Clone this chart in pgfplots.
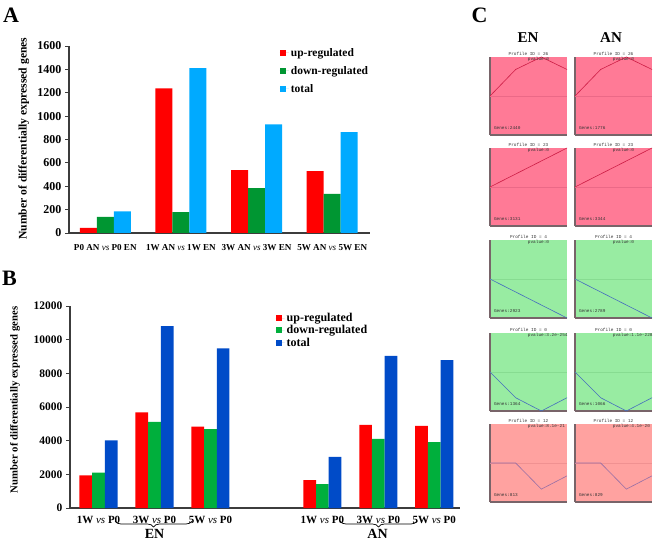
\documentclass[border=0pt]{standalone}
\usepackage{pgfplots}
\pgfplotsset{compat=1.18}
\usepackage{fontspec}
\setmainfont{Liberation Serif}
\newfontfamily\cfont{Liberation Mono}
\usetikzlibrary{decorations.pathreplacing}

\definecolor{redA}{RGB}{255,0,0}
\definecolor{greenA}{RGB}{0,150,50}
\definecolor{blueA}{RGB}{0,170,255}
\definecolor{greenB}{RGB}{0,175,60}
\definecolor{blueB}{RGB}{0,75,200}
\definecolor{pinkbox}{RGB}{255,122,150}
\definecolor{pinkline}{RGB}{205,30,70}
\definecolor{pinkmid}{RGB}{235,105,135}
\definecolor{greenbox}{RGB}{152,236,162}
\definecolor{greenline}{RGB}{70,110,190}
\definecolor{greenmid}{RGB}{135,220,145}
\definecolor{salbox}{RGB}{255,162,160}
\definecolor{salline}{RGB}{150,110,165}
\definecolor{salmid}{RGB}{240,145,145}
\definecolor{boxedge}{RGB}{120,100,105}
\definecolor{axcol}{RGB}{60,60,60}

\newcommand{\cf}{\cfont\fontsize{4.4}{4.4}\selectfont}

\newcommand{\profilebox}[9]{%
\begin{axis}[at={(#1pt,#2pt)}, anchor=south west, scale only axis, width=77pt, height=78pt,
 xmin=0, xmax=3, ymin=-1, ymax=1, ticks=none,
 axis x line*=bottom, axis y line*=left, axis line style={-, boxedge, line width=1.1pt},
 axis background/.style={fill=#3}, clip=false]
\addplot[#5, line width=0.5pt] coordinates {(0,0) (3,0)};
\addplot[#4, line width=0.6pt] coordinates {#6};
\node[font=\cf, above, inner sep=1pt, text=black!80] at (rel axis cs:0.5,1) {Profile ID = #7};
\node[font=\cf, anchor=west, inner sep=0pt, text=black!80] at (rel axis cs:0.49,0.968) {pvalue:#8};
\node[font=\cf, anchor=west, inner sep=0pt, text=black!80] at (rel axis cs:0.05,0.086) {Genes:#9};
\end{axis}}

\pgfplotsset{
  legsq/.style={legend image code/.code={\fill[##1] (0pt,-3pt) rectangle (6pt,3pt); \path (0pt,0pt) -- (9pt,0pt);}},
}

\begin{document}
\begin{tikzpicture}
\path[use as bounding box] (0,0) rectangle (660pt,541pt);

% ---------------- Panel A ----------------
\begin{axis}[
 at={(69pt,308pt)}, anchor=south west, scale only axis, width=301pt, height=187pt,
 ybar=0pt, bar width=17pt,
 xmin=-0.48, xmax=3.5, ymin=0, ymax=1600,
 axis x line*=bottom, axis y line*=left, axis line style={-, line width=1.1pt, axcol},
 xtick={0,1,2,3},
 xticklabels={P0 AN {\normalfont\itshape vs} P0 EN, 1W AN {\normalfont\itshape vs} 1W EN, 3W AN {\normalfont\itshape vs} 3W EN, 5W AN {\normalfont\itshape vs} 5W EN},
 x tick style={draw=none},
 xticklabel style={font=\bfseries\fontsize{9.1}{10}\selectfont, yshift=-4pt},
 ytick={0,200,...,1600}, tick align=outside, major tick length=4pt,
 y tick style={axcol, line width=0.8pt},
 yticklabel style={font=\bfseries\fontsize{12}{12}\selectfont, /pgf/number format/1000 sep={}},
 /pgf/number format/assume math mode=true, scaled y ticks=false,
 ylabel={Number of differentially expressed genes},
 ylabel style={font=\bfseries\fontsize{11.6}{12}\selectfont, at={(axis description cs:-0.15,0.505)}, anchor=center},
 legsq,
 legend style={at={(rel axis cs:0.70,1.0)}, anchor=north west, draw=none, fill=none,
   font=\bfseries\fontsize{11.5}{11.5}\selectfont, row sep=4.5pt, inner sep=0pt},
 legend cell align=left,
]
\addplot[fill=redA, draw=none] coordinates {(0,43) (1,1238) (2,537) (3,530)};
\addplot[fill=greenA, draw=none] coordinates {(0,138) (1,178) (2,385) (3,334)};
\addplot[fill=blueA, draw=none] coordinates {(0,186) (1,1410) (2,930) (3,864)};
\legend{up-regulated, down-regulated, total}
\end{axis}

% ---------------- Panel B ----------------
\begin{axis}[
 at={(70pt,33pt)}, anchor=south west, scale only axis, width=390pt, height=202pt,
 ybar=0pt, bar width=12.7pt,
 xmin=-0.51, xmax=6.46, ymin=0, ymax=12000,
 axis x line*=bottom, axis y line*=left, axis line style={-, line width=1.1pt, axcol},
 xtick={0,1,2,4,5,6},
 xticklabels={1W {\normalfont\itshape vs} P0, 3W {\normalfont\itshape vs} P0, 5W {\normalfont\itshape vs} P0, 1W {\normalfont\itshape vs} P0, 3W {\normalfont\itshape vs} P0, 5W {\normalfont\itshape vs} P0},
 x tick style={draw=none},
 xticklabel style={font=\bfseries\fontsize{11}{11}\selectfont, yshift=-1pt},
 ytick={0,2000,...,12000}, tick align=outside, major tick length=4pt,
 y tick style={axcol, line width=0.8pt},
 yticklabel style={font=\bfseries\fontsize{11.5}{11.5}\selectfont, /pgf/number format/1000 sep={}},
 /pgf/number format/assume math mode=true, scaled y ticks=false,
 ylabel={Number of differentially expressed genes},
 ylabel style={font=\bfseries\fontsize{10.7}{11}\selectfont, at={(axis description cs:-0.141,0.535)}, anchor=center},
 legsq,
 legend style={at={(rel axis cs:0.527,0.975)}, anchor=north west, draw=none, fill=none,
   font=\bfseries\fontsize{12}{12}\selectfont, row sep=-1.5pt, inner sep=0pt},
 legend cell align=left,
]
\addplot[fill=redA, draw=none] coordinates {(0,1940) (1,5680) (2,4830) (4,1660) (5,4940) (6,4880)};
\addplot[fill=greenB, draw=none] coordinates {(0,2100) (1,5120) (2,4690) (4,1420) (5,4110) (6,3910)};
\addplot[fill=blueB, draw=none] coordinates {(0,4020) (1,10800) (2,9490) (4,3040) (5,9030) (6,8790)};
\legend{up-regulated, down-regulated, total}
\end{axis}

\draw[decorate, decoration={brace, mirror, amplitude=6pt}, line width=0.7pt] (115pt,20pt) -- (192pt,20pt);
\draw[decorate, decoration={brace, mirror, amplitude=6pt}, line width=0.7pt] (340pt,20pt) -- (417pt,20pt);
\node[font=\bfseries\fontsize{14}{14}\selectfont] at (154.5pt,7pt) {EN};
\node[font=\bfseries\fontsize{14}{14}\selectfont] at (377.5pt,7pt) {AN};

% ---------------- Panel C ----------------
\profilebox{490}{406}{pinkbox}{pinkline}{pinkmid}{(0,0) (1,0.68) (2,1) (3,0.68)}{26}{0}{2440}
\profilebox{575}{406}{pinkbox}{pinkline}{pinkmid}{(0,0) (1,0.68) (2,1) (3,0.68)}{26}{0}{1776}
\profilebox{490}{315}{pinkbox}{pinkline}{pinkmid}{(0,0) (1,0.333) (2,0.667) (3,1)}{23}{0}{3131}
\profilebox{575}{315}{pinkbox}{pinkline}{pinkmid}{(0,0) (1,0.333) (2,0.667) (3,1)}{23}{0}{3344}
\profilebox{490}{223}{greenbox}{greenline}{greenmid}{(0,0) (1,-0.333) (2,-0.667) (3,-1)}{4}{0}{2923}
\profilebox{575}{223}{greenbox}{greenline}{greenmid}{(0,0) (1,-0.333) (2,-0.667) (3,-1)}{4}{0}{2789}
\profilebox{490}{130}{greenbox}{greenline}{greenmid}{(0,0) (1,-0.66) (2,-1) (3,-0.66)}{0}{3.2e-254}{1364}
\profilebox{575}{130}{greenbox}{greenline}{greenmid}{(0,0) (1,-0.66) (2,-1) (3,-0.66)}{0}{1.1e-228}{1066}
\profilebox{490}{39}{salbox}{salline}{salmid}{(0,0) (1,0) (2,-0.67) (3,-0.33)}{12}{8.1e-21}{813}
\profilebox{575}{39}{salbox}{salline}{salmid}{(0,0) (1,0) (2,-0.67) (3,-0.33)}{12}{4.1e-20}{829}

\node[font=\bfseries\fontsize{15}{15}\selectfont] at (528pt,503pt) {EN};
\node[font=\bfseries\fontsize{15}{15}\selectfont] at (611pt,503.5pt) {AN};

% panel letters
\node[font=\bfseries\fontsize{22}{22}\selectfont] at (11pt,526pt) {A};
\node[font=\bfseries\fontsize{22}{22}\selectfont] at (9.5pt,263pt) {B};
\node[font=\bfseries\fontsize{22}{22}\selectfont] at (479.5pt,526pt) {C};
\end{tikzpicture}
\end{document}
